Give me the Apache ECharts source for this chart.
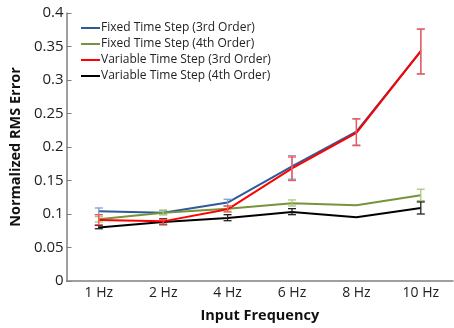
<!DOCTYPE html>
<html>
<head>
<meta charset="utf-8">
<script src="https://cdn.jsdelivr.net/npm/echarts@6/dist/echarts.min.js"></script>
<style>
  html, body { margin: 0; padding: 0; background: #fff; }
  #chart { width: 454px; height: 328px; }
</style>
</head>
<body>
<div id="chart"></div>
<script>
// categories and tick labels
var frequencies = ['1 Hz', '2 Hz', '4 Hz', '6 Hz', '8 Hz', '10 Hz']
var yTicks = [0, 0.4, 0.05] // min, max, step

// mean normalized RMS error per frequency
var fixed3rd = [0.104, 0.102, 0.117, 0.171, 0.223, 0.343]
var fixed4th = [0.092, 0.102, 0.108, 0.116, 0.113, 0.128]
var variable3rd = [0.091, 0.089, 0.107, 0.168, 0.221, 0.343]
var variable4th = [0.080, 0.088, 0.094, 0.103, 0.095, 0.109]

// error bar ranges [low, high], null = no bar
var fixed3rdErr = [[0.099, 0.109], [0.099, 0.105], [0.112, 0.122], [0.152, 0.187], [0.203, 0.242], [0.309, 0.376]]
var fixed4thErr = [[0.088, 0.096], [0.099, 0.106], [0.104, 0.112], [0.112, 0.121], null, [0.120, 0.137]]
var variable3rdErr = [[0.084, 0.099], [0.085, 0.092], [0.103, 0.112], [0.150, 0.185], [0.202, 0.242], [0.309, 0.376]]
var variable4thErr = [[0.078, 0.083], [0.084, 0.093], [0.090, 0.099], [0.099, 0.108], null, [0.100, 0.118]]

var chart = echarts.init(document.getElementById('chart'))

function errData(errs) {
  var out = []
  errs.forEach(function(e, i) {
    if (e) out.push([i, e[0], e[1]])
  })
  return out
}

function errSeries(name, errs, color, z) {
  return {
    name: name,
    type: 'custom',
    z: z,
    data: errData(errs),
    renderItem: function(params, api) {
      var lo = api.coord([api.value(0), api.value(1)])
      var hi = api.coord([api.value(0), api.value(2)])
      var w = 4
      var st = { stroke: color, lineWidth: 1.3 }
      return {
        type: 'group',
        children: [
          { type: 'line', shape: { x1: lo[0], y1: lo[1], x2: hi[0], y2: hi[1] }, style: st },
          { type: 'line', shape: { x1: lo[0] - w, y1: lo[1], x2: lo[0] + w, y2: lo[1] }, style: st },
          { type: 'line', shape: { x1: hi[0] - w, y1: hi[1], x2: hi[0] + w, y2: hi[1] }, style: st }
        ]
      }
    }
  }
}

function lineSeries(name, data, color, z) {
  return {
    name: name,
    type: 'line',
    z: z,
    data: data,
    symbol: 'none',
    lineStyle: { color: color, width: 2 },
    itemStyle: { color: color }
  }
}

var names = [
  'Fixed Time Step (3rd Order)',
  'Fixed Time Step (4th Order)',
  'Variable Time Step (3rd Order)',
  'Variable Time Step (4th Order)'
]

chart.setOption({
  animation: false,
  textStyle: { fontFamily: 'Open Sans' },
  grid: { left: 56, right: 1, top: 13, bottom: 42 },
  legend: {
    data: names,
    orient: 'vertical',
    left: 76,
    top: 16,
    itemWidth: 19,
    itemHeight: 2,
    itemGap: 2,
    icon: 'rect',
    textStyle: { fontFamily: 'Open Sans', fontSize: 12, color: '#222', padding: [0, 0, 0, -4], lineHeight: 14 }
  },
  xAxis: {
    type: 'category',
    data: frequencies,
    boundaryGap: true,
    name: 'Input Frequency',
    nameLocation: 'middle',
    nameGap: 27,
    nameTextStyle: { fontFamily: 'Open Sans', fontWeight: 'bold', fontSize: 14.5, color: '#111' },
    axisLine: { lineStyle: { color: '#808080', width: 1.5 } },
    axisTick: { alignWithLabel: true, inside: true, length: 4, lineStyle: { color: '#808080' } },
    axisLabel: { fontFamily: 'Open Sans', fontSize: 14, color: '#222', margin: 5 }
  },
  yAxis: {
    type: 'value',
    min: yTicks[0],
    max: yTicks[1],
    interval: yTicks[2],
    name: 'Normalized RMS Error',
    nameLocation: 'middle',
    nameGap: 40,
    nameTextStyle: { fontFamily: 'Open Sans', fontWeight: 'bold', fontSize: 14.5, color: '#111' },
    splitLine: { show: false },
    axisLine: { show: true, lineStyle: { color: '#808080', width: 1.5 } },
    axisTick: { show: true, inside: true, length: 5, lineStyle: { color: '#808080' } },
    axisLabel: { fontFamily: 'Open Sans', fontSize: 15, color: '#222', margin: 3 }
  },
  series: [
    lineSeries(names[0], fixed3rd, '#2f5a96', 2),
    lineSeries(names[1], fixed4th, '#77933c', 2),
    lineSeries(names[3], variable4th, '#000000', 2),
    lineSeries(names[2], variable3rd, '#ff0000', 3),
    errSeries(names[0], fixed3rdErr, '#7a9fd0', 4),
    errSeries(names[1], fixed4thErr, '#a8c878', 4),
    errSeries(names[3], variable4thErr, '#222222', 4),
    errSeries(names[2], variable3rdErr, '#ff5050', 5)
  ]
})
</script>
</body>
</html>
